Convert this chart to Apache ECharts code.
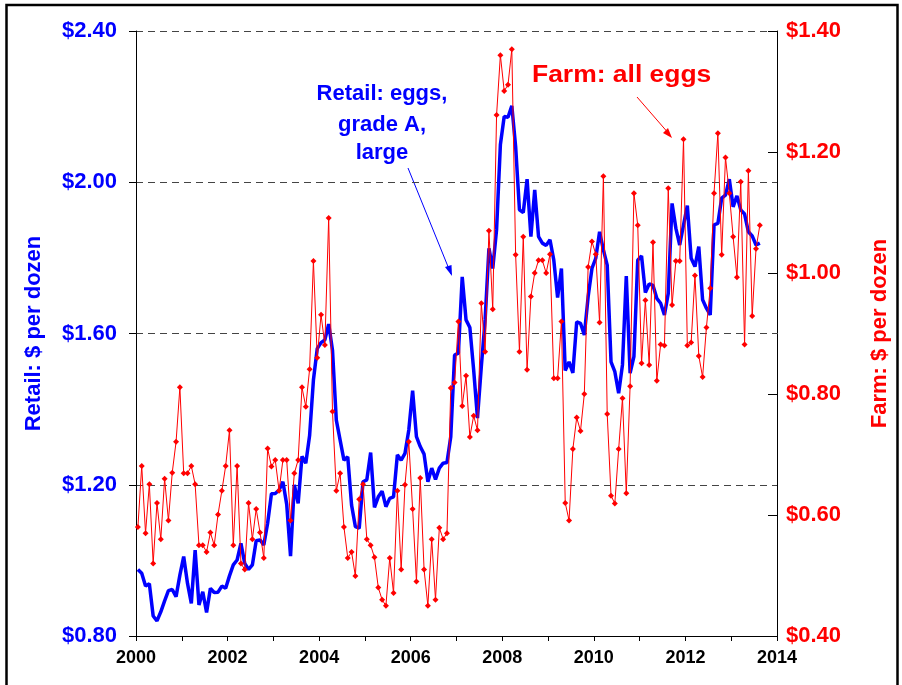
<!DOCTYPE html>
<html>
<head>
<meta charset="utf-8">
<script src="https://cdn.jsdelivr.net/npm/echarts@6/dist/echarts.min.js"></script>
<style>
  html, body { margin: 0; padding: 0; background: #fff; }
  #chart { width: 902px; height: 685px; }
</style>
</head>
<body>
<div id="chart"></div>
<script>
// monthly series, Jan 2000 .. Aug 2013
const startYear = 2000;

const retail = [
  0.976, 0.966, 0.932, 0.938, 0.853, 0.840, 0.864, 0.893, 0.920, 0.923, 0.904, 0.961,
  1.010, 0.939, 0.886, 1.027, 0.882, 0.917, 0.862, 0.926, 0.915, 0.916, 0.932, 0.926,
  0.959, 0.988, 1.001, 1.045, 0.992, 0.976, 0.988, 1.052, 1.054, 1.041, 1.098, 1.176,
  1.177, 1.186, 1.208, 1.148, 1.011, 1.200, 1.151, 1.275, 1.257, 1.330, 1.477, 1.560,
  1.576, 1.583, 1.625, 1.556, 1.371, 1.318, 1.265, 1.274, 1.146, 1.089, 1.085, 1.208,
  1.213, 1.285, 1.140, 1.168, 1.183, 1.142, 1.164, 1.168, 1.279, 1.265, 1.283, 1.345,
  1.449, 1.327, 1.301, 1.281, 1.208, 1.244, 1.214, 1.244, 1.257, 1.259, 1.327, 1.543,
  1.548, 1.750, 1.636, 1.616, 1.503, 1.376, 1.512, 1.636, 1.825, 1.772, 1.874, 2.099,
  2.174, 2.172, 2.202, 2.094, 1.927, 1.920, 2.008, 1.856, 1.980, 1.856, 1.839, 1.833,
  1.848, 1.794, 1.695, 1.772, 1.502, 1.525, 1.496, 1.631, 1.627, 1.596, 1.697, 1.772,
  1.799, 1.869, 1.821, 1.781, 1.525, 1.499, 1.442, 1.517, 1.752, 1.495, 1.539, 1.794,
  1.805, 1.708, 1.731, 1.727, 1.693, 1.680, 1.649, 1.706, 1.944, 1.878, 1.834, 1.887,
  1.938, 1.799, 1.777, 1.830, 1.689, 1.667, 1.649, 1.887, 1.891, 1.958, 1.966, 2.008,
  1.935, 1.964, 1.927, 1.916, 1.869, 1.858, 1.834, 1.839
];

const farm = [
  0.580, 0.681, 0.570, 0.651, 0.520, 0.620, 0.560, 0.660, 0.591, 0.670, 0.721, 0.811,
  0.669, 0.669, 0.681, 0.651, 0.550, 0.550, 0.539, 0.571, 0.550, 0.601, 0.640, 0.681,
  0.740, 0.550, 0.681, 0.520, 0.510, 0.620, 0.560, 0.610, 0.571, 0.529, 0.710, 0.680,
  0.691, 0.640, 0.691, 0.691, 0.591, 0.669, 0.691, 0.811, 0.779, 0.841, 1.020, 0.860,
  0.931, 0.881, 1.091, 0.771, 0.640, 0.669, 0.580, 0.529, 0.539, 0.499, 0.626, 0.651,
  0.560, 0.550, 0.530, 0.480, 0.460, 0.450, 0.529, 0.471, 0.640, 0.510, 0.650, 0.721,
  0.610, 0.490, 0.661, 0.510, 0.450, 0.560, 0.460, 0.579, 0.560, 0.570, 0.810, 0.819,
  0.920, 0.780, 0.830, 0.729, 0.764, 0.740, 0.950, 0.870, 1.070, 0.940, 1.261, 1.360,
  1.301, 1.311, 1.370, 1.030, 0.870, 1.060, 0.840, 0.961, 1.000, 1.021, 1.021, 1.000,
  1.031, 0.826, 0.826, 0.920, 0.620, 0.591, 0.709, 0.761, 0.739, 0.800, 1.010, 1.052,
  1.031, 0.918, 1.160, 0.767, 0.632, 0.619, 0.709, 0.793, 0.636, 0.813, 1.132, 1.079,
  0.851, 0.955, 0.848, 1.051, 0.822, 0.882, 0.880, 1.140, 0.947, 1.020, 1.020, 1.221,
  0.880, 0.885, 0.996, 0.863, 0.828, 0.910, 0.975, 1.132, 1.231, 1.030, 1.191, 1.132,
  1.060, 0.993, 1.151, 0.882, 1.169, 0.929, 1.040, 1.079
];

const BLUE = "#0000ff";
const RED = "#ff0000";
const FONT = "'Liberation Sans', Arial, sans-serif";

const toPoints = arr => arr.map((v, i) => [startYear + (i + 0.5) / 12, v]);

const chart = echarts.init(document.getElementById("chart"));

const option = {
  backgroundColor: "#fff",
  animation: false,
  grid: { left: 136, right: 125, top: 31, bottom: 49 },
  xAxis: {
    type: "value",
    min: 2000,
    max: 2014,
    interval: 1,
    axisLine: { lineStyle: { color: "#000", width: 1 } },
    axisTick: { show: true, inside: false, length: 5, lineStyle: { color: "#000" } },
    axisLabel: {
      color: "#000",
      fontFamily: FONT,
      fontWeight: "bold",
      fontSize: 18,
      margin: 13,
      formatter: v => (v % 2 === 0 ? String(v) : "")
    },
    splitLine: { show: false }
  },
  yAxis: [
    {
      type: "value",
      position: "left",
      min: 0.8,
      max: 2.4,
      interval: 0.4,
      name: "Retail: $ per dozen",
      nameLocation: "middle",
      nameRotate: 90,
      nameGap: 91,
      nameTextStyle: { color: BLUE, fontFamily: FONT, fontWeight: "bold", fontSize: 22 },
      axisLine: { show: true, lineStyle: { color: "#000", width: 1 } },
      axisTick: { show: true, inside: false, length: 7, lineStyle: { color: "#000" } },
      axisLabel: {
        color: BLUE,
        fontFamily: FONT,
        fontWeight: "bold",
        fontSize: 22,
        margin: 19,
        formatter: v => "$" + v.toFixed(2)
      },
      splitLine: { show: true, lineStyle: { color: "#444", type: [7, 5], width: 1 } }
    },
    {
      type: "value",
      position: "right",
      min: 0.4,
      max: 1.4,
      interval: 0.2,
      name: "Farm: $ per dozen",
      nameLocation: "middle",
      nameRotate: 90,
      nameGap: 92,
      nameTextStyle: { color: RED, fontFamily: FONT, fontWeight: "bold", fontSize: 22 },
      axisLine: { show: true, lineStyle: { color: "#000", width: 1 } },
      axisTick: { show: true, inside: true, length: 9, lineStyle: { color: "#000" } },
      axisLabel: {
        color: RED,
        fontFamily: FONT,
        fontWeight: "bold",
        fontSize: 22,
        margin: 9,
        formatter: v => "$" + v.toFixed(2)
      },
      splitLine: { show: false }
    }
  ],
  series: [
    {
      name: "Retail: eggs, grade A, large",
      type: "line",
      yAxisIndex: 0,
      data: toPoints(retail),
      showSymbol: false,
      symbol: "none",
      lineStyle: { color: BLUE, width: 3.5 },
      z: 2
    },
    {
      name: "Farm: all eggs",
      type: "line",
      yAxisIndex: 1,
      data: toPoints(farm),
      symbol: "diamond",
      symbolSize: 6,
      itemStyle: { color: RED },
      lineStyle: { color: RED, width: 1 },
      z: 3
    }
  ],
  graphic: [
    {
      type: "rect",
      shape: { x: 6.5, y: 5, width: 891, height: 700 },
      style: { fill: "none", stroke: "#000", lineWidth: 2.5 },
      silent: true
    },
    {
      type: "text", x: 382, y: 94,
      style: { text: "Retail: eggs,", align: "center", verticalAlign: "middle", fill: BLUE, font: "bold 22px " + FONT }
    },
    {
      type: "text", x: 382, y: 125,
      style: { text: "grade A,", align: "center", verticalAlign: "middle", fill: BLUE, font: "bold 22px " + FONT }
    },
    {
      type: "text", x: 382, y: 153,
      style: { text: "large", align: "center", verticalAlign: "middle", fill: BLUE, font: "bold 22px " + FONT }
    },
    {
      type: "line",
      shape: { x1: 408, y1: 168, x2: 451, y2: 274 },
      style: { stroke: BLUE, lineWidth: 1 }
    },
    {
      type: "polygon",
      shape: { points: [[452, 276], [445, 267], [451.5, 265]] },
      style: { fill: BLUE }
    },
    {
      type: "text", x: 532, y: 76, scaleX: 1.15,
      style: { text: "Farm: all eggs", align: "left", verticalAlign: "middle", fill: RED, font: "bold 23px " + FONT }
    },
    {
      type: "line",
      shape: { x1: 637, y1: 97, x2: 670, y2: 135 },
      style: { stroke: RED, lineWidth: 1 }
    },
    {
      type: "polygon",
      shape: { points: [[672, 138], [663, 133], [668, 128]] },
      style: { fill: RED }
    }
  ]
};

chart.setOption(option);
window.addEventListener("resize", () => chart.resize());
</script>
</body>
</html>
